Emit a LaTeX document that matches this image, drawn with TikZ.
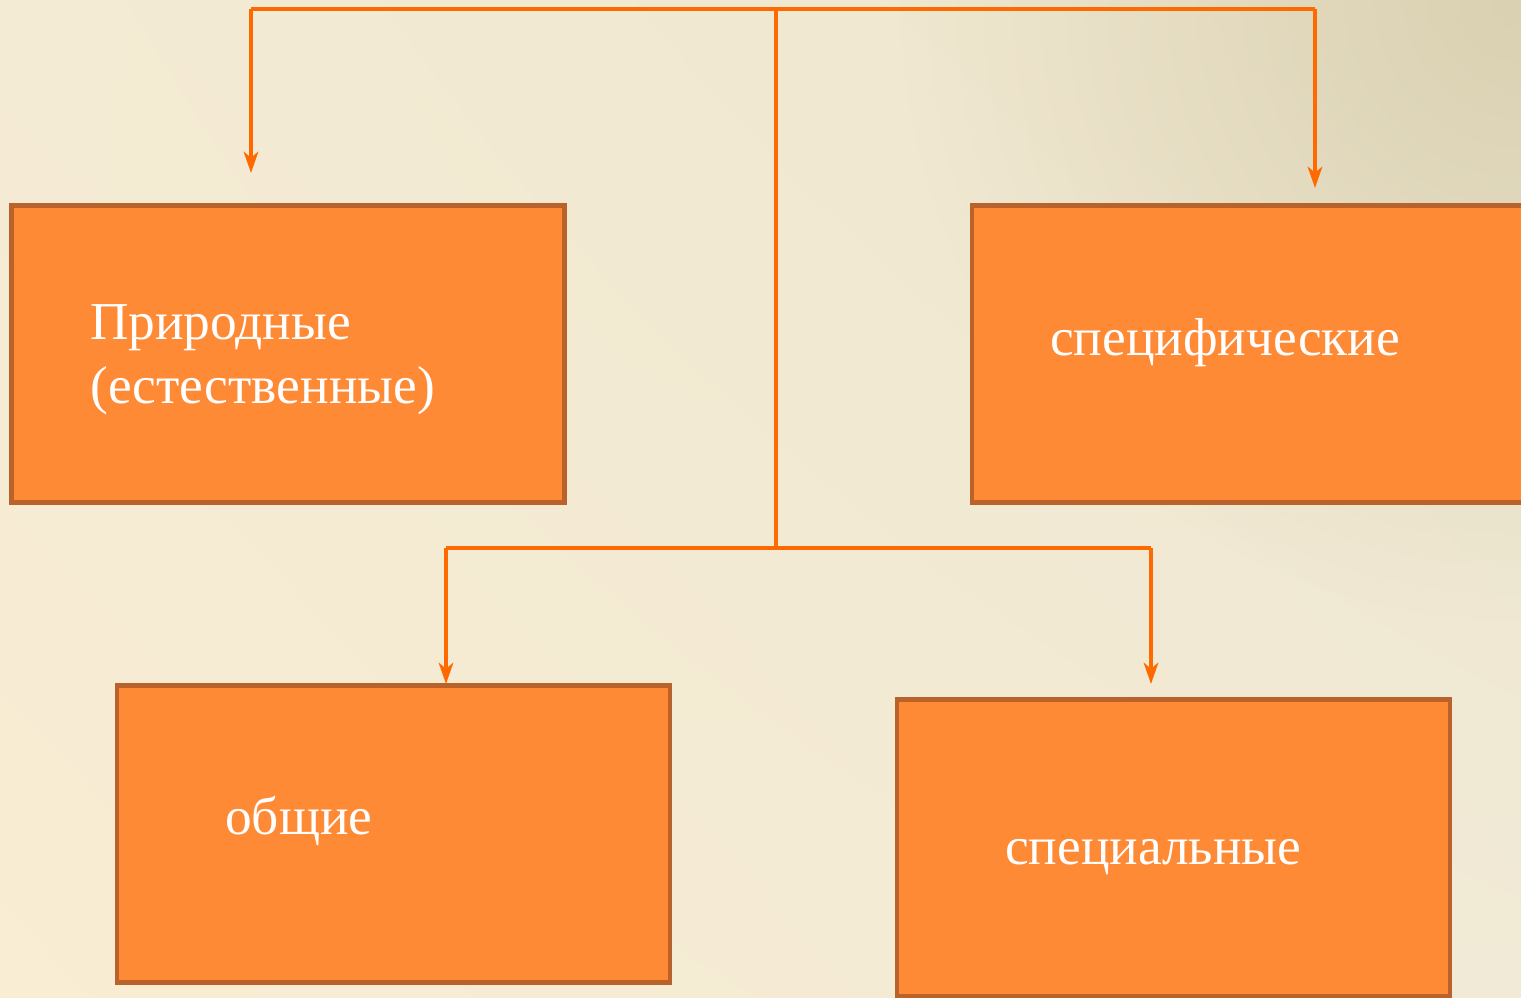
\documentclass[tikz,border=0pt]{standalone}
\usepackage{fontspec}
\setmainfont{Liberation Serif}
\usetikzlibrary{arrows.meta,shadings,fadings}
\definecolor{bgUL}{HTML}{F4EBD4}
\definecolor{bgUR}{HTML}{EDE5CE}
\definecolor{bgLL}{HTML}{F9EDD3}
\definecolor{bgLR}{HTML}{F1EAD6}
\definecolor{bgCorner}{HTML}{DAD1B2}
\definecolor{boxfill}{HTML}{FF8A36}
\definecolor{boxline}{HTML}{B9632B}
\definecolor{conn}{HTML}{FF6A00}
\tikzfading[name=cornerfade, inner color=transparent!0, outer color=transparent!100]
\tikzset{
  catbox/.style={draw=boxline, fill=boxfill, line width=3.6pt, inner sep=0pt,
    minimum width=553*0.75pt, minimum height=297*0.75pt},
  lbl/.style={text=white, font=\fontsize{40pt}{48pt}\selectfont, inner sep=0pt, anchor=west, align=left},
  conline/.style={draw=conn, line width=2.3pt},
  conarrow/.style={conline, -{Stealth[length=16pt, width=11pt, inset=4.5pt]}}
}
\begin{document}
\begin{tikzpicture}[x=0.75pt, y=-0.75pt]
\shade[upper left=bgUL, upper right=bgUR, lower left=bgLL, lower right=bgLR] (0,0) rectangle (1521,998);
\begin{scope}
\clip (0,0) rectangle (1521,998);
\fill[bgCorner, path fading=cornerfade, fit fading=true] (1521,0) circle[radius=620];
\end{scope}
\useasboundingbox (0,0) rectangle (1521,998);
% boxes
\node[catbox] (b1) at (288,354) {};
\node[catbox] (b2) at (1248.5,354) {};
\node[catbox] (b3) at (393.5,834) {};
\node[catbox] (b4) at (1173.5,848) {};
% labels
\node[lbl] (t1) at (90,360) {Природные\\(естественные)};
\node[lbl] (t2) at (1050,343) {специфические};
\node[lbl] (t3) at (225,821) {общие};
\node[lbl] (t4) at (1005,857) {специальные};
% connector coordinates
\coordinate (top) at (776,9);
\coordinate (topL) at (251,9);
\coordinate (topR) at (1315,9);
\coordinate (mid) at (776,548);
\coordinate (midL) at (446,548);
\coordinate (midR) at (1151,548);
\coordinate (endL) at (251,173);
\coordinate (endR) at (1315,188);
\coordinate (end3) at (446,684);
\coordinate (end4) at (1151,684);
% connectors
\draw[conline] (topL) -- (topR);
\draw[conline] (top) -- (mid);
\draw[conline] (midL) -- (midR);
\draw[conarrow] (topL) -- (endL);
\draw[conarrow] (topR) -- (endR);
\draw[conarrow] (midL) -- (end3);
\draw[conarrow] (midR) -- (end4);
\end{tikzpicture}
\end{document}
